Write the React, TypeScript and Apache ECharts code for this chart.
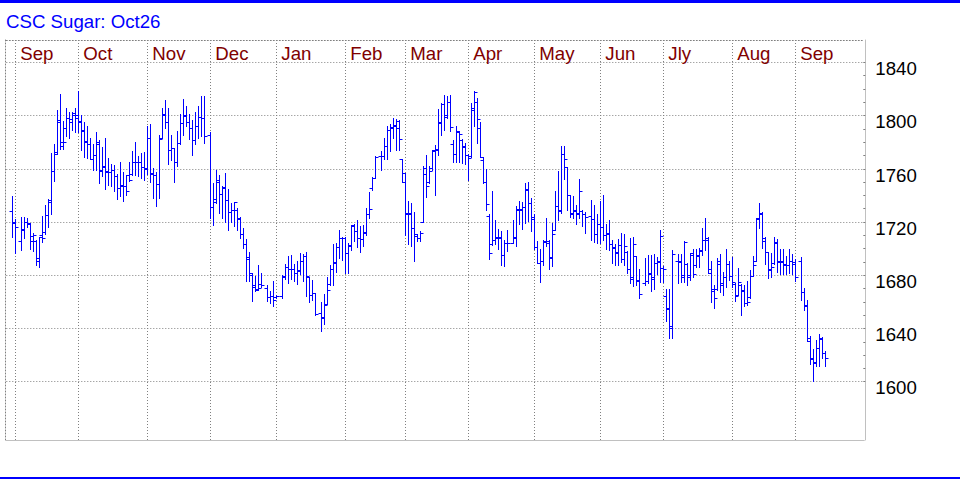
import React, { useEffect, useRef } from "react";
import * as echarts from "echarts";

const TITLE = "CSC Sugar: Oct26";
const CATEGORY_COUNT = 287;
const MONTH_NAMES = ["Jan", "Feb", "Mar", "Apr", "May", "Jun", "Jly", "Aug", "Sep", "Oct", "Nov", "Dec"];
const Y_LABELS = [1600, 1640, 1680, 1720, 1760, 1800, 1840];
const Y_MIN = 1556.2;
const Y_MAX = 1856.8;

const _ = null;

const OPEN = [
  _, _, 1728, 1720, _, 1705, 1714, 1720, 1718, 1705,
  1705, 1690, 1710, 1712, 1725, 1735, 1758, 1772, 1796, 1780,
  1790, 1798, 1795, 1800, 1800, 1795, 1788, 1780, 1778, 1767,
  1770, 1778, 1758, 1762, 1758, 1757, 1759, 1754, 1745, 1747,
  1747, 1755, 1756, 1765, 1765, 1765, 1761, 1760, 1783, 1756.5,
  1755, 1748, 1783, 1800, 1795, 1774, 1775, 1765, 1779, 1794,
  1800, 1795, 1790, 1781, 1792, 1798.5, 1798, _, 1785, 1731,
  1737, 1750, 1741, 1745, 1736, 1727, 1729, 1729, 1722, 1711,
  1703, 1692, 1680, 1672, 1669, 1673, _, 1670, 1663, 1664,
  1663, _, 1664, 1679, 1686, 1684, 1684, 1681, 1683, 1690,
  1694, 1678, 1665, 1666, _, 1651, 1648, 1658, 1673, 1684,
  1689, 1701, 1707.5, 1708, 1696, 1702, 1717, 1713, 1708, 1707,
  1712, 1726, 1745, 1753, _, 1769, 1769, 1777, 1789, 1790,
  1792, 1790, 1767, 1750, 1726, 1726, 1715, 1709, 1708, 1720,
  1760, 1750, 1760, 1773, 1774, 1795, 1808, 1800, 1810, 1778,
  1771, 1787, 1781, 1776, 1770, 1769, 1804, 1810, 1790, 1766,
  1750, 1724, 1703, 1706, 1708, 1708, 1695, 1704, _, 1704,
  1708, 1729, 1729, 1731, 1744, 1734, 1722, 1701, 1689, 1690,
  1705, 1704, 1693, 1714, 1732, 1728, 1771, 1761, 1740, 1726,
  1728, 1726, 1728, 1726, _, 1724, 1722, 1711, 1718, 1716,
  1710, 1711, 1703, 1700, 1697, 1702, 1692, 1697, 1684, 1678,
  1694, 1676, _, 1674, 1675, 1681, 1678, 1689, 1690, 1685,
  1664, 1655, 1640, _, 1690, 1690, 1680, 1688, 1680, 1695,
  1687, 1694, 1698, 1706, 1706, 1684, 1668, 1669, 1690, 1674,
  1678, 1688, 1679, 1673, 1665, 1672, 1668, 1659, 1663, 1679,
  1690, 1722, 1726, 1705, 1697, 1684, 1689, 1704, 1690, 1690,
  1688, 1687, 1690, 1688, _, 1690, 1667, 1657, 1630, 1617,
  1614, 1625, 1632, 1621,
];

const HIGH = [
  _, _, 1739, 1722, _, 1723.4, 1723.4, 1722.7, 1719, 1711.5,
  1706, 1708.5, 1723.9, 1732.7, 1737.2, 1771.8, 1778, 1804, 1815.7, 1795.8,
  1805, 1802.5, 1802, 1805, 1818.2, 1800, 1795, 1791.8, 1782.5, 1778.6,
  1787, 1781.3, 1775.8, 1782.5, 1767.6, 1763.3, 1762.6, 1755.6, 1765, 1757.6,
  1755.1, 1765, 1773, 1780, 1769.3, 1771.8, 1772.6, 1792, 1793, 1760,
  1757, 1785, 1805, 1811, 1805, 1785, 1775, 1788, 1801, 1812,
  1807, 1801, 1796.5, 1802, 1807, 1814, 1814, _, 1787, 1749,
  1759, 1755, 1747, 1756.5, 1744.5, 1734, 1735, 1730, 1723.5, 1715,
  1707, 1697, 1681, 1679, 1687, 1681, _, 1672, 1668, 1675,
  1664.5, _, 1680, 1688, 1694, 1695, 1688, 1690.5, 1696, 1695.5,
  1697, 1678.6, 1676, 1666.3, _, 1659.4, 1665.6, 1678.6, 1687.3, 1703,
  1704.2, 1713.7, 1708.5, 1708.5, 1704.2, 1717.5, 1718, 1720.9, 1716.7, 1717.5,
  1730.4, 1742.1, 1753.4, 1769.1, _, 1772.8, 1782.8, 1791.5, 1793.5, 1797.8,
  1797.3, 1796, 1767.1, 1756.6, 1735.4, 1733.7, 1727.2, 1710.5, 1713, 1761.6,
  1770.3, 1762.1, 1774.1, 1777.8, 1804.7, 1809, 1815, 1814, 1815, 1781,
  1791.5, 1788.3, 1782, 1779, 1771, 1809, 1818, 1813, 1794.5, 1768.5,
  1759.5, 1726, 1743, 1721, 1714.5, 1712.8, 1706, 1713.5, _, 1720.8,
  1732, 1735.8, 1734.8, 1749, 1749.8, 1737.8, 1726, 1705.3, 1699, 1706,
  1722.8, 1706, 1719, 1742.8, 1758.3, 1776.5, 1777, 1761, 1740.3, 1739,
  1732.3, 1752, 1729, 1727, _, 1736, 1732.7, 1726, 1735.2, 1740.2,
  1717.8, 1721, 1706.5, 1702.8, 1707, 1711.5, 1710.3, 1697.8, 1707.3, 1708.5,
  1694.1, 1684.6, _, 1692.3, 1694.6, 1694.6, 1695.8, 1693.3, 1714, 1686.6,
  1669.1, 1669.6, 1698.3, _, 1695.3, 1695.3, 1705.3, 1689.1, 1696.6, 1699,
  1699, 1700.3, 1714.8, 1722.7, 1708.3, 1690.3, 1672.4, 1692.8, 1695.3, 1682,
  1699.3, 1690.5, 1693, 1673.5, 1685, 1673, 1672.5, 1675.5, 1683.5, 1694.3,
  1722.5, 1734.3, 1726.8, 1708.5, 1697.3, 1696.3, 1708.5, 1706.8, 1699.3, 1699.3,
  1693.8, 1699.3, 1695.5, 1691.8, _, 1693, 1670, 1661, 1634.3, 1624.3,
  1631, 1635.5, 1633, 1623,
];

const LOW = [
  _, _, 1708.5, 1696.5, _, 1698.5, 1707.7, 1716, 1699.5, 1697.8,
  1687, 1686, 1704.7, 1710.7, 1716, 1725.9, 1750.6, 1770.6, 1774.3, 1774.3,
  1784.3, 1783, 1788.5, 1787.5, 1787.5, 1773.8, 1768.3, 1767.6, 1767, 1758.9,
  1758.4, 1748.9, 1754.4, 1744.4, 1747.6, 1746.9, 1742.6, 1736.9, 1739.4, 1735.2,
  1740.1, 1750.6, 1755.1, 1755.1, 1754.4, 1752.6, 1750.9, 1756, 1750, 1738,
  1732, 1738, 1783, 1790, 1763.5, 1766.5, 1750, 1762, 1778, 1785,
  1792, 1782, 1770, 1778, 1783, 1784.5, 1779, _, 1723, 1717.5,
  1734, 1726.5, 1723, 1720, 1713.5, 1720, 1717, 1713.5, 1708, 1700,
  1675, 1675, 1660, 1668, 1668.5, 1671, _, 1660, 1658.5, 1656.5,
  1662.7, _, 1662.7, 1677, 1674, 1677, 1675, 1673, 1680.5, 1675,
  1664, 1659.4, 1661, 1650, _, 1638, 1643, 1658, 1672.3, 1672.3,
  1681.8, 1692.5, 1691, 1681.3, 1681.3, 1698.8, 1705.5, 1701, 1696.8, 1701.7,
  1709.7, 1722.4, 1743.6, 1752.4, _, 1758.6, 1767.3, 1767.3, 1773.3, 1782.8,
  1773.6, 1774.1, 1749.6, 1709.7, 1703, 1701.7, 1690, 1705.5, 1705.5, 1719.9,
  1738.7, 1748.6, 1759.1, 1739.9, 1769.8, 1785, 1788.5, 1798, 1788, 1765,
  1765, 1764.8, 1764, 1763.5, 1751.5, 1768.5, 1791.5, 1779, 1768.5, 1749,
  1729, 1692, 1702, 1702.8, 1699, 1687, 1686.5, 1697.8, _, 1703.5,
  1701.5, 1717.8, 1714.5, 1719, 1720.3, 1712.8, 1699.5, 1688.5, 1674.8, 1687,
  1701.5, 1684.5, 1686.5, 1713.5, 1721.5, 1726.5, 1752.3, 1729, 1723.5, 1722.8,
  1718.3, 1722.8, 1716.5, 1711.5, _, 1706.5, 1704.5, 1704, 1704, 1706,
  1699, 1698.6, 1688.6, 1687.1, 1687.1, 1689.6, 1687.1, 1681.1, 1673.6, 1671.6,
  1672.1, 1662.9, _, 1672.1, 1673.6, 1667.9, 1669.1, 1680.3, 1674.6, 1674.6,
  1644.9, 1632.2, 1632.2, _, 1674.1, 1674.6, 1674.6, 1672.1, 1676.1, 1678.4,
  1685.8, 1685.8, 1694.8, 1698.3, 1681.6, 1659.9, 1654.7, 1668.6, 1667.4, 1665,
  1671, 1676, 1670.5, 1660, 1664.8, 1650, 1656.8, 1657.5, 1662.3, 1678.8,
  1690, 1714.8, 1699.8, 1688, 1677.3, 1678.5, 1688, 1681.8, 1680.5, 1680.5,
  1680.5, 1681.3, 1680.5, 1675.5, _, 1661, 1653.8, 1630, 1613, 1600,
  1611.8, 1611.8, 1617.3, 1611.3,
];

const CLOSE = [
  _, _, 1719, 1716, _, 1714.5, 1720, 1719.2, 1709.5, 1710.2,
  1692.5, 1708.5, 1707.7, 1725.2, 1735.9, 1758.1, 1770.6, 1794.5, 1776.8, 1779.8,
  1798, 1797, 1801.7, 1798, 1795.5, 1788.8, 1780.8, 1778, 1767, 1770,
  1780, 1758.4, 1761.3, 1757.6, 1756.9, 1758.9, 1754.4, 1744.9, 1747.4, 1746.9,
  1742.6, 1751, 1764.8, 1765, 1764.8, 1761.1, 1759.6, 1783, 1756, 1755,
  1748, 1782, 1801, 1795, 1774, 1775, 1765, 1779, 1794, 1799.5,
  1795, 1790, 1781, 1792, 1798.5, 1798, 1784, _, 1731, 1735,
  1751, 1741, 1746, 1736, 1727, 1729, 1734.5, 1723, 1711, 1703,
  1693, 1681, 1671, 1668.5, 1670, 1672, _, 1663, 1664, 1661,
  1664, _, 1678.5, 1686, 1684, 1684, 1681, 1683.5, 1690, 1694,
  1679, 1665, 1666, 1650.6, _, 1647.4, 1657.6, 1668.6, 1684.3, 1689.3,
  1701.2, 1707.5, 1708, 1696, 1701.7, 1717.2, 1713, 1708, 1706.7, 1711.7,
  1725.9, 1729.7, 1752.9, 1768.8, _, 1769.1, 1776.8, 1789, 1790.8, 1792.3,
  1795.8, 1782.3, 1756.6, 1726.7, 1726.7, 1715, 1710.5, 1707.5, 1711.7, 1755.9,
  1746.6, 1757.9, 1774.1, 1774.6, 1794, 1808, 1798.5, 1810, 1791, 1771,
  1788, 1786, 1776.5, 1770, 1768, 1805, 1817, 1797, 1768.5, 1750,
  1733, 1696.5, 1706, 1708.5, 1708.5, 1695, 1704, 1704, _, 1708.5,
  1729.5, 1729.5, 1731, 1744.5, 1734, 1723.5, 1701, 1689, 1690, 1704.8,
  1705.3, 1692.8, 1711, 1732, 1728.3, 1770.8, 1767.3, 1740.3, 1726.5, 1728.5,
  1726.5, 1742.8, 1725.7, 1723.5, _, 1722, 1710.8, 1717.8, 1716, 1709.8,
  1711.5, 1702.8, 1700.8, 1696.6, 1702, 1692.1, 1701.5, 1684.1, 1677.1, 1702.8,
  1675.4, 1665.4, _, 1675.4, 1680.8, 1677.1, 1689.1, 1689.8, 1709, 1684.1,
  1653.9, 1641.7, 1695.8, _, 1689.8, 1678.6, 1704.8, 1678.6, 1696.6, 1680.8,
  1694.6, 1698.3, 1705.8, 1707.8, 1681.6, 1669.1, 1662.9, 1687.8, 1672.3, 1678,
  1688, 1678.8, 1674.8, 1663.8, 1674.3, 1668.5, 1658.5, 1659.8, 1678.8, 1687.3,
  1722.5, 1726.3, 1708, 1696.8, 1683.8, 1685.5, 1704.8, 1689.8, 1689.8, 1687.3,
  1687.3, 1690.5, 1689.8, 1678, _, 1667.3, 1656.8, 1632.5, 1617.3, 1614.3,
  1624.8, 1632.5, 1621.3, 1617.3,
];

const FONT = 'Arial, "Liberation Sans", sans-serif';
const FONT_SIZE = 18.67;
const BAR_COLOR = "#0000ff";
const DOT_STYLE = { color: "#808080", width: 1, type: [1, 2] };

function buildDates(): string[] {
  const out: string[] = [];
  const d = new Date(Date.UTC(2024, 7, 28));
  while (out.length < CATEGORY_COUNT) {
    const wd = d.getUTCDay();
    if (wd !== 0 && wd !== 6) out.push(d.toISOString().slice(0, 10));
    d.setUTCDate(d.getUTCDate() + 1);
  }
  return out;
}

export default function App() {
  const ref = useRef<HTMLDivElement>(null);

  useEffect(() => {
    if (!ref.current) return;
    const chart = echarts.init(ref.current, undefined, { renderer: "svg" });

    const dates = buildDates();
    const lastIndex = OPEN.length - 1;
    const monthStarts = new Set<number>();
    for (let i = 1; i <= lastIndex; i++) {
      if (dates[i].slice(5, 7) !== dates[i - 1].slice(5, 7)) monthStarts.add(i);
    }
    const isMonthStart = (index: number) => monthStarts.has(index);

    const minorTicks: number[] = [];
    for (let v = 1600; v <= 1840; v += 10) minorTicks.push(v);

    const data: number[][] = [];
    for (let i = 0; i < OPEN.length; i++) {
      if (OPEN[i] == null) continue;
      data.push([i, OPEN[i] as number, HIGH[i] as number, LOW[i] as number, CLOSE[i] as number]);
    }

    const renderItem = (_params: any, api: any) => {
      const i = api.value(0);
      const pO = api.coord([i, api.value(1)]);
      const pH = api.coord([i, api.value(2)]);
      const pL = api.coord([i, api.value(3)]);
      const pC = api.coord([i, api.value(4)]);
      const x = Math.floor(pO[0]) + 0.5;
      const yo = Math.floor(pO[1]) + 0.5;
      const yc = Math.floor(pC[1]) + 0.5;
      const style = { stroke: BAR_COLOR, lineWidth: 1, fill: null };
      return {
        type: "group",
        children: [
          { type: "line", shape: { x1: x, y1: Math.floor(pH[1]), x2: x, y2: Math.floor(pL[1]) + 1 }, style },
          { type: "line", shape: { x1: x - 3, y1: yo, x2: x, y2: yo }, style },
          { type: "line", shape: { x1: x, y1: yc, x2: x + 3, y2: yc }, style },
        ],
      };
    };

    const option: any = {
      animation: false,
      backgroundColor: "#ffffff",
      title: {
        text: TITLE,
        left: 6,
        top: 12,
        padding: 0,
        textStyle: {
          color: "#0000ff",
          fontSize: FONT_SIZE,
          fontWeight: "normal",
          fontFamily: FONT,
          lineHeight: FONT_SIZE,
        },
      },
      graphic: [
        { type: "rect", shape: { x: 0, y: 0, width: 960, height: 3 }, style: { fill: "#0000ff" }, silent: true },
        { type: "rect", shape: { x: 0, y: 477, width: 960, height: 2 }, style: { fill: "#0000ff" }, silent: true },
      ],
      grid: { left: 6.3, top: 40, width: 858, height: 400, containLabel: false },
      xAxis: [
        {
          type: "category",
          position: "top",
          data: dates,
          boundaryGap: false,
          axisLine: { show: true, onZero: false, lineStyle: DOT_STYLE },
          axisTick: { show: false },
          axisLabel: {
            inside: true,
            interval: (index: number) => isMonthStart(index),
            formatter: (value: string) => MONTH_NAMES[parseInt(value.slice(5, 7), 10) - 1],
            color: "#800000",
            fontSize: FONT_SIZE,
            fontFamily: FONT,
            align: "left",
            verticalAlign: "top",
            lineHeight: 20,
            margin: 3,
            padding: [0, 0, 0, 5],
          },
          splitLine: { show: true, interval: (index: number) => isMonthStart(index), lineStyle: DOT_STYLE },
        },
        {
          type: "category",
          position: "bottom",
          data: dates,
          boundaryGap: false,
          axisLine: { show: true, onZero: false, lineStyle: { color: "#c0c0c0", width: 1 } },
          axisTick: { show: false },
          axisLabel: { show: false },
          splitLine: { show: false },
        },
      ],
      yAxis: [
        {
          type: "value",
          position: "right",
          offset: 1,
          min: Y_MIN,
          max: Y_MAX,
          axisLine: { show: true, lineStyle: { color: "#c0c0c0", width: 1 } },
          axisTick: { show: true, inside: true, length: 2, customValues: minorTicks, lineStyle: { color: "#808080" } },
          axisLabel: {
            customValues: Y_LABELS,
            formatter: (v: number) => String(Math.round(v)),
            color: "#000000",
            fontSize: FONT_SIZE,
            fontFamily: FONT,
            margin: 10,
            verticalAlign: "top",
            lineHeight: 12.5,
          },
          splitLine: { show: false },
        },
        {
          type: "value",
          position: "left",
          offset: 1.3,
          min: Y_MIN,
          max: Y_MAX,
          axisLine: { show: true, lineStyle: DOT_STYLE },
          axisTick: { show: false, customValues: Y_LABELS },
          axisLabel: { show: false },
          splitLine: { show: true, lineStyle: DOT_STYLE },
        },
      ],
      series: [
        {
          type: "custom",
          xAxisIndex: 0,
          yAxisIndex: 0,
          renderItem,
          data,
          encode: { x: 0, y: [1, 2, 3, 4] },
          silent: true,
        },
      ],
    };

    chart.setOption(option);
    return () => chart.dispose();
  }, []);

  return (
    <div
      ref={ref}
      style={{ position: "absolute", left: 0, top: 0, width: 960, height: 480 }}
    />
  );
}
